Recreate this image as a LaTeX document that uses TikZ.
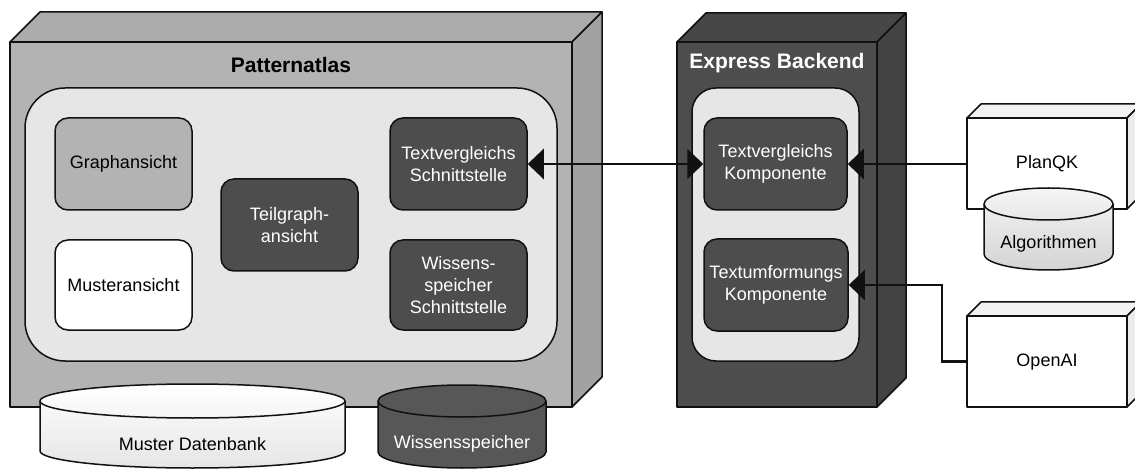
\documentclass[tikz,border=0pt]{standalone}
\usepackage{fontspec}
\setmainfont{Liberation Sans}
\usetikzlibrary{arrows.meta}
\definecolor{paFront}{HTML}{B3B3B3}
\definecolor{paTop}{HTML}{ABABAB}
\definecolor{paSide}{HTML}{A2A2A2}
\definecolor{exFront}{HTML}{4D4D4D}
\definecolor{exTop}{HTML}{474747}
\definecolor{exSide}{HTML}{434343}
\definecolor{wTop}{HTML}{F2F2F2}
\definecolor{wSide}{HTML}{EBEBEB}
\definecolor{innerFill}{HTML}{E6E6E6}
\definecolor{midFill}{HTML}{B3B3B3}
\definecolor{darkFill}{HTML}{4D4D4D}
\definecolor{cylDark}{HTML}{575757}
\definecolor{lineCol}{HTML}{111111}
\newcommand\mycyl[6]{% x1 x2 yt yb r fillopts
  \pgfmathsetmacro\mycx{(#1+#2)/2}%
  \pgfmathsetmacro\myrx{(#2-#1)/2}%
  \path[draw=lineCol, line width=1.5pt, #6] (#1,#3+#5) -- (#1,#4-#5)
    arc[start angle=180, end angle=360, x radius=\myrx pt, y radius=#5pt]
    -- (#2,#3+#5)
    arc[start angle=0, end angle=180, x radius=\myrx pt, y radius=#5pt] -- cycle;
  \draw[draw=lineCol, line width=1.5pt] (#1,#3+#5)
    arc[start angle=180, end angle=360, x radius=\myrx pt, y radius=#5pt];
}
\tikzset{
  lbl/.style={font=\fontsize{18}{21.6}\selectfont, align=center, inner sep=0pt},
  ttl/.style={font=\fontsize{21}{25}\selectfont\bfseries, align=center, inner sep=0pt},
  face/.style={draw=lineCol, line width=1.5pt, line join=round},
  frontbox/.style={face, rectangle, inner sep=0pt, outer sep=0pt},
  innerbox/.style={face, rectangle, fill=innerFill, inner sep=0pt},
  compbox/.style={face, rectangle, rounded corners=13pt, inner sep=0pt,
    minimum width=137pt, minimum height=92pt, lbl},
  conn/.style={draw=lineCol, line width=2.6pt},
  bigtri/.tip={Triangle[length=16pt, width=30pt]}
}
\begin{document}
\begin{tikzpicture}[x=1pt, y=-1pt]
\useasboundingbox (0,0) rectangle (1135,470);
\clip (0,0) rectangle (1135,470);

% ---------- Patternatlas 3D box ----------
\node[frontbox, fill=paFront, minimum width=562pt, minimum height=365pt] (pa) at (291,224.5) {};
\filldraw[face, fill=paTop] (pa.north west) -- ++(30,-30) -- ++(562,0) -- (pa.north east) -- cycle;
\filldraw[face, fill=paSide] (pa.north east) -- ++(30,-30) -- ++(0,365) -- (pa.south east) -- cycle;
\node[ttl] (patitle) at (291,65) {Patternatlas};
\node[innerbox, rounded corners=40pt, minimum width=532pt, minimum height=273pt] (pain) at (291,224.5) {};

\node[compbox, fill=midFill] (graph) at (123.5,164) {Graphansicht};
\node[compbox, fill=white, minimum height=90pt] (muster) at (123.5,285) {Musteransicht};
\node[compbox, fill=darkFill, text=white] (teil) at (289.5,225) {Teilgraph-\\ansicht};
\node[compbox, fill=darkFill, text=white] (tvs) at (458.5,164) {Textvergleichs\\Schnittstelle};
\node[compbox, fill=darkFill, text=white, minimum height=90pt] (wss) at (458.5,285) {Wissens-\\speicher\\Schnittstelle};

% ---------- Express Backend 3D box ----------
\node[frontbox, fill=exFront, minimum width=200pt, minimum height=365pt] (ex) at (777,224.5) {};
\filldraw[face, fill=exTop] (ex.north west) -- ++(29,-29) -- ++(200,0) -- (ex.north east) -- cycle;
\filldraw[face, fill=exSide] (ex.north east) -- ++(29,-29) -- ++(0,365) -- (ex.south east) -- cycle;
\node[ttl, text=white] (extitle) at (777,63) {Express Backend};
\node[innerbox, rounded corners=24pt, minimum width=167pt, minimum height=273pt] (exin) at (775.5,224.5) {};

\node[compbox, fill=darkFill, text=white, minimum width=143pt] (tvk) at (775.5,164) {Textvergleichs\\Komponente};
\node[compbox, fill=darkFill, text=white, minimum width=144pt] (tum) at (776,285) {Textumformungs\\Komponente};

% ---------- PlanQK ----------
\node[frontbox, fill=white, minimum width=160pt, minimum height=91pt] (planqk) at (1047,163.5) {};
\filldraw[face, fill=wTop] (planqk.north west) -- ++(14,-14) -- ++(160,0) -- (planqk.north east) -- cycle;
\filldraw[face, fill=wSide] (planqk.north east) -- ++(14,-14) -- ++(0,91) -- (planqk.south east) -- cycle;
\node[lbl] (planqklbl) at (1047,164) {PlanQK};

\mycyl{984}{1113}{188}{270}{16}{top color=white!96!black, bottom color=black!17}
\node[lbl] (algo) at (1048.5,244) {Algorithmen};

% ---------- OpenAI ----------
\node[frontbox, fill=white, minimum width=160pt, minimum height=91pt] (openai) at (1047,361.5) {};
\filldraw[face, fill=wTop] (openai.north west) -- ++(14,-14) -- ++(160,0) -- (openai.north east) -- cycle;
\filldraw[face, fill=wSide] (openai.north east) -- ++(14,-14) -- ++(0,91) -- (openai.south east) -- cycle;
\node[lbl] (openailbl) at (1047,362) {OpenAI};

% ---------- Databases ----------
\mycyl{40}{345}{384}{468}{17}{top color=white, bottom color=black!10}
\node[lbl] (mdb) at (192.5,444) {Muster Datenbank};
\mycyl{378}{546}{385}{468}{16}{fill=cylDark}
\node[lbl, text=white] (wsp) at (462,444) {Wissensspeicher};

% ---------- Connectors ----------
\draw[conn, {bigtri}-{bigtri}] (tvs.east) -- (tvk.west);
\coordinate (pqin) at (tvk.east -| planqk.west);
\draw[conn, -{bigtri}] (pqin) -- (tvk.east);
\draw[conn, -{bigtri}] (openai.west) -- ++(-25,0) |- (tum.east);
\end{tikzpicture}
\end{document}
